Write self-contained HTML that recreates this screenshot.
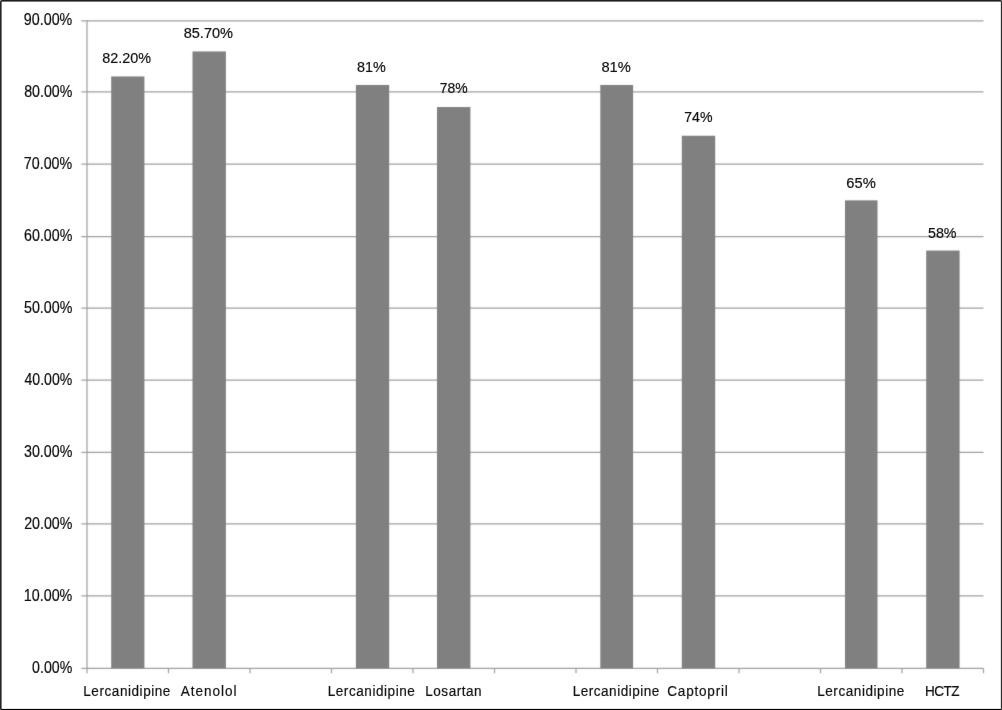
<!DOCTYPE html>
<html lang="en"><head><meta charset="utf-8"><title>Chart</title>
<style>
html,body{margin:0;padding:0;background:#fff;}
body{width:1002px;height:710px;overflow:hidden;position:relative;}
svg{position:absolute;left:0;top:0;display:block;}
text{font-family:"Liberation Sans",Arial,sans-serif;fill:#0a0a0a;stroke:#0a0a0a;stroke-width:0.18;}
</style></head><body>
<svg width="1002" height="710" viewBox="0 0 1002 710">
<defs><filter id="soft" color-interpolation-filters="sRGB" x="0" y="0" width="1002" height="710" filterUnits="userSpaceOnUse"><feConvolveMatrix order="3" kernelMatrix="0.01134 0.08382 0.01134 0.08382 0.61935 0.08382 0.01134 0.08382 0.01134" divisor="1" edgeMode="duplicate" preserveAlpha="true"/></filter><filter id="softt" color-interpolation-filters="sRGB" x="0" y="0" width="1002" height="710" filterUnits="userSpaceOnUse"><feConvolveMatrix order="3" kernelMatrix="0.00087 0.02776 0.00087 0.02776 0.88549 0.02776 0.00087 0.02776 0.00087" divisor="1" edgeMode="duplicate" preserveAlpha="false"/></filter></defs>
<rect x="0" y="0" width="1002" height="710" fill="#ffffff"/>
<g filter="url(#soft)">
<rect x="-5" y="-5" width="1012" height="720" fill="#ffffff"/>

<g stroke="#a0a0a0" stroke-width="1.25" fill="none">
<line x1="81.3" y1="668.30" x2="983.5" y2="668.30"/>
<line x1="81.3" y1="595.90" x2="983.5" y2="595.90"/>
<line x1="81.3" y1="523.85" x2="983.5" y2="523.85"/>
<line x1="81.3" y1="452.30" x2="983.5" y2="452.30"/>
<line x1="81.3" y1="380.10" x2="983.5" y2="380.10"/>
<line x1="81.3" y1="308.00" x2="983.5" y2="308.00"/>
<line x1="81.3" y1="236.50" x2="983.5" y2="236.50"/>
<line x1="81.3" y1="164.20" x2="983.5" y2="164.20"/>
<line x1="81.3" y1="91.95" x2="983.5" y2="91.95"/>
<line x1="81.3" y1="20.80" x2="983.5" y2="20.80"/>
<line x1="87.0" y1="20.2" x2="87.0" y2="673.2"/>
<line x1="168.50" y1="668.3" x2="168.50" y2="673.2"/>
<line x1="250.00" y1="668.3" x2="250.00" y2="673.2"/>
<line x1="331.50" y1="668.3" x2="331.50" y2="673.2"/>
<line x1="413.00" y1="668.3" x2="413.00" y2="673.2"/>
<line x1="494.50" y1="668.3" x2="494.50" y2="673.2"/>
<line x1="576.00" y1="668.3" x2="576.00" y2="673.2"/>
<line x1="657.50" y1="668.3" x2="657.50" y2="673.2"/>
<line x1="739.00" y1="668.3" x2="739.00" y2="673.2"/>
<line x1="820.50" y1="668.3" x2="820.50" y2="673.2"/>
<line x1="902.00" y1="668.3" x2="902.00" y2="673.2"/>
<line x1="983.50" y1="668.3" x2="983.50" y2="673.2"/>
</g>
<g fill="#808080">
<rect x="111.20" y="76.45" width="33.20" height="591.85"/>
<rect x="192.50" y="51.45" width="33.40" height="616.85"/>
<rect x="355.90" y="84.95" width="33.30" height="583.35"/>
<rect x="437.00" y="107.05" width="33.40" height="561.25"/>
<rect x="600.30" y="84.95" width="32.80" height="583.35"/>
<rect x="681.80" y="135.75" width="33.40" height="532.55"/>
<rect x="845.00" y="200.35" width="32.50" height="467.95"/>
<rect x="926.20" y="250.55" width="33.40" height="417.75"/>
</g>
</g>
<g filter="url(#softt)">
<text x="32.11" y="672.60" font-size="15.75" textLength="40.15" lengthAdjust="spacingAndGlyphs">0.00%</text>
<text x="23.78" y="600.80" font-size="15.75" textLength="48.57" lengthAdjust="spacingAndGlyphs">10.00%</text>
<text x="24.18" y="528.80" font-size="15.75" textLength="48.18" lengthAdjust="spacingAndGlyphs">20.00%</text>
<text x="24.02" y="457.45" font-size="15.75" textLength="48.33" lengthAdjust="spacingAndGlyphs">30.00%</text>
<text x="24.53" y="384.50" font-size="15.75" textLength="47.71" lengthAdjust="spacingAndGlyphs">40.00%</text>
<text x="23.98" y="313.45" font-size="15.75" textLength="48.36" lengthAdjust="spacingAndGlyphs">50.00%</text>
<text x="24.07" y="240.80" font-size="15.75" textLength="48.26" lengthAdjust="spacingAndGlyphs">60.00%</text>
<text x="23.82" y="169.15" font-size="15.75" textLength="48.38" lengthAdjust="spacingAndGlyphs">70.00%</text>
<text x="24.16" y="96.50" font-size="15.75" textLength="48.17" lengthAdjust="spacingAndGlyphs">80.00%</text>
<text x="23.87" y="25.45" font-size="15.75" textLength="48.46" lengthAdjust="spacingAndGlyphs">90.00%</text>
<text x="102.13" y="63.45" font-size="15.5" textLength="48.83" lengthAdjust="spacingAndGlyphs">82.20%</text>
<text x="183.70" y="37.95" font-size="15.5" textLength="49.35" lengthAdjust="spacingAndGlyphs">85.70%</text>
<text x="357.11" y="72.05" font-size="15.5" textLength="28.76" lengthAdjust="spacingAndGlyphs">81%</text>
<text x="439.65" y="92.75" font-size="15.5" textLength="27.90" lengthAdjust="spacingAndGlyphs">78%</text>
<text x="601.42" y="72.25" font-size="15.5" textLength="29.36" lengthAdjust="spacingAndGlyphs">81%</text>
<text x="684.18" y="122.25" font-size="15.5" textLength="28.29" lengthAdjust="spacingAndGlyphs">74%</text>
<text x="846.29" y="187.95" font-size="15.5" textLength="29.45" lengthAdjust="spacingAndGlyphs">65%</text>
<text x="927.96" y="237.85" font-size="15.5" textLength="28.53" lengthAdjust="spacingAndGlyphs">58%</text>
<text transform="translate(83.31,695.50) scale(0.875,1)" font-size="15.5" textLength="99.52" lengthAdjust="spacing">Lercanidipine</text>
<text transform="translate(180.82,695.50) scale(0.875,1)" font-size="15.5" textLength="63.57" lengthAdjust="spacing">Atenolol</text>
<text transform="translate(327.73,695.50) scale(0.875,1)" font-size="15.5" textLength="99.53" lengthAdjust="spacing">Lercanidipine</text>
<text transform="translate(425.32,695.50) scale(0.875,1)" font-size="15.5" textLength="64.25" lengthAdjust="spacing">Losartan</text>
<text transform="translate(572.68,695.50) scale(0.875,1)" font-size="15.5" textLength="99.10" lengthAdjust="spacing">Lercanidipine</text>
<text transform="translate(667.27,695.50) scale(0.875,1)" font-size="15.5" textLength="69.21" lengthAdjust="spacing">Captopril</text>
<text transform="translate(817.19,695.50) scale(0.875,1)" font-size="15.5" textLength="99.59" lengthAdjust="spacing">Lercanidipine</text>
<text transform="translate(925.03,695.50) scale(0.875,1)" font-size="15.5" textLength="39.47" lengthAdjust="spacing">HCTZ</text>
</g>
<g filter="url(#soft)">
<rect x="0" y="0" width="1002" height="1.6" fill="#202020"/>
<rect x="0" y="0" width="1.6" height="710" fill="#262626"/>
<rect x="1000.85" y="0" width="1.15" height="710" fill="#303030"/>
<rect x="0" y="708.9" width="1002" height="1.1" fill="#000000"/>
<rect x="0" y="0" width="1" height="1" fill="#c8c8c8"/>
<rect x="1001" y="0" width="1" height="1" fill="#909090"/>
<rect x="0" y="709" width="1" height="1" fill="#707070"/>
<rect x="1001" y="709" width="1" height="1" fill="#707070"/>
</g>
</svg></body></html>
